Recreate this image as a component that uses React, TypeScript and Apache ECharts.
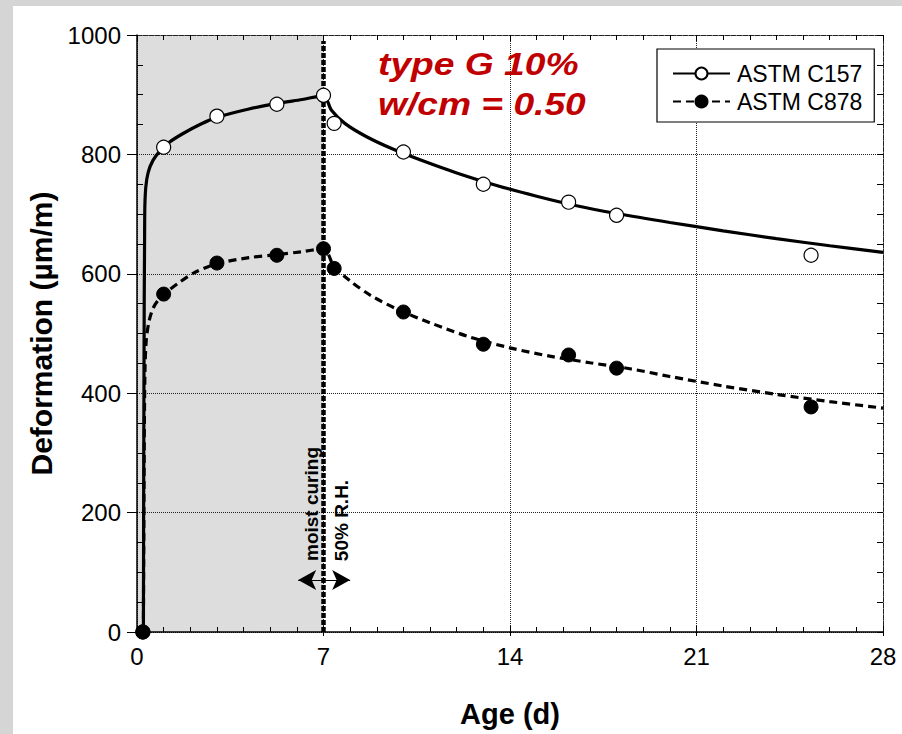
import React, { useEffect, useRef } from "react";
import * as echarts from "echarts";

// ---- data ----
const pointAges = [0.22, 1, 3, 5.25, 7, 7.4, 10, 13, 16.2, 18, 25.3];
const c157Values = [0, 812, 864, 884, 899, 852, 804, 750, 720, 698, 631];
const c878Values = [0, 566, 618, 631, 642, 609, 536, 482, 464, 442, 377];

const c157FitAges = [0.24, 0.26, 0.29, 0.33, 0.42, 0.6, 0.85, 1.2, 1.73, 2.4, 3, 4.2, 5.2, 6.2, 7, 7.3, 7.8, 8.6, 9.6, 10.8, 12, 13.5, 15, 16.5, 18, 20, 22, 24, 26, 28];
const c157FitValues = [0, 400, 700, 745, 770, 790, 805, 820, 835, 851, 862, 876, 885, 892, 898, 874, 852, 830, 809, 788, 769, 748, 730, 714, 701, 686, 672, 659, 647, 636];

const c878FitAges = [0.24, 0.27, 0.3, 0.35, 0.45, 0.6, 0.8, 1.1, 1.6, 2.2, 3, 4.2, 5.2, 6.2, 7, 7.4, 8, 8.8, 9.8, 11, 12.5, 14, 15.5, 17, 18.5, 20, 22, 24, 26, 28];
const c878FitValues = [0, 300, 440, 490, 520, 542, 556, 569, 586, 603, 617, 627, 632, 637, 642, 612, 588, 563, 540, 518, 494, 476, 462, 451, 441, 428, 412, 398, 386, 375];

const xTicks = [0, 7, 14, 21, 28];
const yTicks = [0, 200, 400, 600, 800, 1000];
const moistCuringRange = [0, 7];
const curingLineValues = [0, 990];
const arrowAges = [6.05, 8.0];
const arrowValue = 87;

const FONT = '"Liberation Sans", Arial, sans-serif';

const zip = (xs: number[], ys: number[]) => xs.map((x, i) => [x, ys[i]]);

export default function App() {
  const ref = useRef<HTMLDivElement>(null);
  useEffect(() => {
    if (!ref.current) return;
    const chart = echarts.init(ref.current, undefined, { renderer: "svg" });
    const xMin = xTicks[0];
    const xMax = xTicks[xTicks.length - 1];
    const xInt = xTicks[1] - xTicks[0];
    const yMin = yTicks[0];
    const yMax = yTicks[yTicks.length - 1];
    const yInt = yTicks[1] - yTicks[0];

    const baseX = { type: "value", min: xMin, max: xMax, interval: xInt };
    const baseY = { type: "value", min: yMin, max: yMax, interval: yInt };
    const plain = (v: number) => String(v);

    chart.setOption({
      animation: false,
      backgroundColor: "#d5d5d5",
      textStyle: { fontFamily: FONT },
      grid: { left: 137, right: 19, top: 35, bottom: 102, containLabel: false },
      graphic: [
        { type: "rect", z: -10, shape: { x: 13, y: 6, width: 889, height: 728 }, style: { fill: "#ffffff" } },
        {
          type: "text", x: 378, y: 64, scaleX: 1.2, z: 10,
          style: { text: "type G 10%", fill: "#c00000", fontSize: 31, fontWeight: "bold", fontStyle: "italic", fontFamily: FONT, align: "left", verticalAlign: "middle" },
        },
        {
          type: "text", x: 378, y: 104, scaleX: 1.2, z: 10,
          style: { text: "w/cm = 0.50", fill: "#c00000", fontSize: 31, fontWeight: "bold", fontStyle: "italic", fontFamily: FONT, align: "left", verticalAlign: "middle" },
        },
        {
          type: "text", x: 311.5, y: 504, rotation: Math.PI / 2, z: 10,
          style: { text: "moist curing", fill: "#000", fontSize: 19, fontWeight: "bold", fontFamily: FONT, align: "center", verticalAlign: "middle" },
        },
        {
          type: "text", x: 341, y: 520.5, rotation: Math.PI / 2, z: 10,
          style: { text: "50% R.H.", fill: "#000", fontSize: 19, fontWeight: "bold", fontFamily: FONT, align: "center", verticalAlign: "middle" },
        },
      ],
      legend: {
        data: ["ASTM C157", "ASTM C878"],
        orient: "vertical",
        left: 657,
        top: 49,
        padding: [13, 12, 9, 15],
        itemWidth: 57,
        itemHeight: 15,
        itemGap: 5,
        backgroundColor: "#fff",
        borderColor: "#000",
        borderWidth: 1.2,
        borderRadius: 0,
        textStyle: { fontSize: 23, color: "#000", fontFamily: FONT, padding: [0, 0, 0, 2] },
      },
      xAxis: [
        {
          ...baseX,
          position: "bottom",
          axisLine: { onZero: false, lineStyle: { color: "#000", width: 1.5 } },
          axisTick: { inside: true, length: 6, lineStyle: { color: "#000", width: 1 } },
          minorTick: { show: true, splitNumber: 7, length: 5, lineStyle: { color: "#000", width: 1 } },
          axisLabel: { formatter: plain, fontSize: 24, color: "#000", margin: 12, fontFamily: FONT },
          splitLine: { show: true, lineStyle: { type: "dotted", color: "#222", width: 1 } },
          name: "Age (d)",
          nameLocation: "middle",
          nameGap: 67,
          nameTextStyle: { fontSize: 29, fontWeight: "bold", color: "#000", fontFamily: FONT },
        },
        {
          ...baseX,
          position: "bottom",
          axisLine: { show: false, onZero: false },
          axisTick: { show: true, inside: false, length: 4, lineStyle: { color: "#000", width: 1 } },
          axisLabel: { show: false },
          splitLine: { show: false },
        },
        {
          ...baseX,
          position: "top",
          axisLine: { show: true, onZero: false, lineStyle: { color: "#222", width: 1, type: [2, 1] } },
          axisTick: { show: true, inside: true, length: 6, lineStyle: { color: "#000", width: 1 } },
          minorTick: { show: true, splitNumber: 7, length: 5, lineStyle: { color: "#000", width: 1 } },
          axisLabel: { show: false },
          splitLine: { show: false },
        },
      ],
      yAxis: [
        {
          ...baseY,
          position: "left",
          axisLine: { show: true, onZero: false, lineStyle: { color: "#000", width: 1.5 } },
          axisTick: { show: true, inside: false, length: 10, lineStyle: { color: "#000", width: 1 } },
          axisLabel: { formatter: plain, fontSize: 24, color: "#000", margin: 16, fontFamily: FONT },
          splitLine: { show: true, lineStyle: { type: "dotted", color: "#222", width: 1 } },
          name: "Deformation (µm/m)",
          nameLocation: "middle",
          nameGap: 75,
          nameTextStyle: { fontSize: 30, fontWeight: "bold", color: "#000", fontFamily: FONT },
        },
        {
          ...baseY,
          position: "left",
          axisLine: { show: false, onZero: false },
          axisTick: { show: false, inside: true },
          minorTick: { show: true, splitNumber: 4, length: 6, lineStyle: { color: "#000", width: 1 } },
          axisLabel: { show: false },
          splitLine: { show: false },
        },
        {
          ...baseY,
          position: "right",
          axisLine: { show: true, onZero: false, lineStyle: { color: "#222", width: 1, type: [2, 1] } },
          axisTick: { show: true, inside: true, length: 6, lineStyle: { color: "#000", width: 1 } },
          minorTick: { show: true, splitNumber: 4, length: 6, lineStyle: { color: "#000", width: 1 } },
          axisLabel: { show: false },
          splitLine: { show: false },
        },
      ],
      series: [
        {
          type: "custom",
          name: "moist curing",
          z: -1,
          silent: true,
          data: [moistCuringRange],
          renderItem: (params: any, api: any) => {
            const p0 = api.coord([api.value(0), yMax]);
            const p1 = api.coord([api.value(1), yMin]);
            return {
              type: "rect",
              shape: { x: p0[0], y: p0[1], width: p1[0] - p0[0], height: p1[1] - p0[1] },
              style: { fill: "#dcdddc" },
            };
          },
        },
        {
          type: "line",
          name: "ASTM C157",
          data: zip(c157FitAges, c157FitValues),
          showSymbol: false,
          symbol: "circle",
          smooth: 0.3,
          lineStyle: { color: "#000", width: 3.2, type: "solid" },
          itemStyle: { color: "#fff", borderColor: "#000", borderWidth: 1.2 },
          z: 3,
        },
        {
          type: "line",
          name: "ASTM C878",
          data: zip(c878FitAges, c878FitValues),
          showSymbol: false,
          symbol: "circle",
          smooth: 0.3,
          lineStyle: { color: "#000", width: 3.2, type: [8, 5] },
          itemStyle: { color: "#000", borderColor: "#000", borderWidth: 1 },
          z: 3,
        },
        {
          type: "line",
          name: "curing change",
          data: curingLineValues.map((v) => [moistCuringRange[1], v]),
          showSymbol: false,
          lineStyle: { color: "#000", width: 4.5, type: [5, 2] },
          z: 4,
          silent: true,
          markLine: {
            silent: true,
            symbol: ["arrow", "arrow"],
            symbolSize: [15, 18],
            label: { show: false },
            lineStyle: { color: "#000", width: 1, type: "solid" },
            itemStyle: { color: "#000" },
            data: [[{ coord: [arrowAges[0], arrowValue] }, { coord: [arrowAges[1], arrowValue] }]],
          },
        },
        {
          type: "scatter",
          name: "C157 data",
          data: zip(pointAges, c157Values),
          symbol: "circle",
          symbolSize: 14,
          itemStyle: { color: "#fff", borderColor: "#000", borderWidth: 1.2, opacity: 1 },
          z: 5,
        },
        {
          type: "scatter",
          name: "C878 data",
          data: zip(pointAges, c878Values),
          symbol: "circle",
          symbolSize: 14,
          itemStyle: { color: "#000", borderColor: "#000", borderWidth: 1, opacity: 1 },
          z: 6,
        },
      ],
    });
    return () => chart.dispose();
  }, []);

  return (
    <div
      ref={ref}
      style={{ position: "absolute", left: 0, top: 0, width: 902, height: 734 }}
    />
  );
}
